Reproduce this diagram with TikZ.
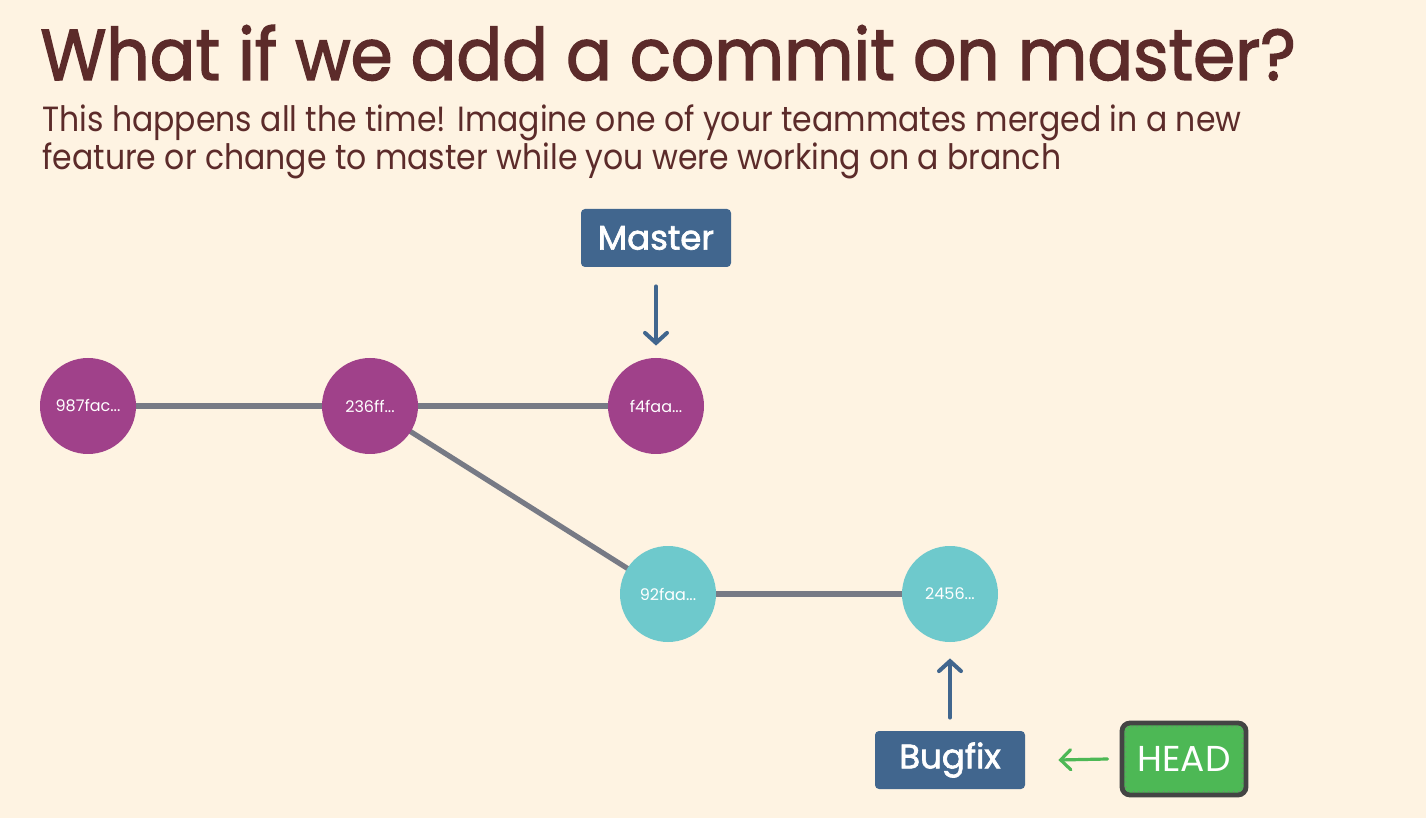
\documentclass[tikz,border=0pt]{standalone}
\usepackage{fontspec}
\setmainfont{Poppins}
\newfontfamily\headingfont{Poppins}[FakeBold=2]
\usepackage{tikz}
\usetikzlibrary{arrows.meta,positioning}
\definecolor{bgcream}{HTML}{FEF3E2}
\definecolor{titlebrown}{HTML}{5C2B2A}
\definecolor{commitpurple}{HTML}{A0418A}
\definecolor{committeal}{HTML}{6EC9CC}
\definecolor{edgegray}{HTML}{777A85}
\definecolor{branchblue}{HTML}{41668E}
\definecolor{headgreen}{HTML}{4DB855}
\definecolor{headborder}{HTML}{444444}
\pgfdeclarelayer{edges}
\pgfsetlayers{edges,main}
\tikzset{
	commit/.style={circle, minimum size=48pt, inner sep=0pt, text=white, font=\fontsize{8}{9}\selectfont},
	master commit/.style={commit, fill=commitpurple},
	branch commit/.style={commit, fill=committeal},
	history/.style={edgegray, line width=2.6pt},
	branchbox/.style={fill=branchblue, rounded corners=2pt, text=white, minimum width=75pt, minimum height=29pt, inner sep=0pt, font=\headingfont\fontsize{17}{20}\selectfont},
	pointer/.style={branchblue, line width=2pt, line cap=round, -{Straight Barb[length=5pt,width=11pt,line cap=round]}},
	headbox/.style={fill=headgreen, draw=headborder, line width=2.4pt, rounded corners=4pt, text=white, minimum width=62pt, minimum height=36pt, inner sep=0pt, font=\fontsize{18}{20}\selectfont},
	headpointer/.style={headgreen, line width=1.6pt, line cap=round, -{Straight Barb[length=5pt,width=10pt,line cap=round]}}
}
\begin{document}
\begin{tikzpicture}[x=0.5pt, y=-0.5pt]
	\begin{pgfonlayer}{edges}
		\fill [bgcream] (0,0) rectangle (1426,818);
	\end{pgfonlayer}
	\useasboundingbox (0,0) rectangle (1426,818);
	
	% titles
	\node [anchor=base west, inner sep=0pt, xscale=0.94, text=titlebrown, font=\headingfont\fontsize{36}{40}\selectfont] (title) at (40,80) {What if we add a commit on master?};
	\node [anchor=base west, inner sep=0pt, xscale=0.9, text=titlebrown, font=\fontsize{17.5}{20}\selectfont] (subtitle1) at (42,132) {This happens all the time! Imagine one of your teammates merged in a new};
	\node [anchor=base west, inner sep=0pt, xscale=0.9, text=titlebrown, font=\fontsize{17.5}{20}\selectfont] (subtitle2) at (42,170) {feature or change to master while you were working on a branch};
	
	% commits
	\node [master commit] (c987) at (88,406) {987fac...};
	\node [master commit] (c236) at (370,406) {236ff...};
	\node [master commit] (cf4f) at (656,406) {f4faa...};
	\node [branch commit] (c92f) at (668,594) {92faa...};
	\node [branch commit] (c2456) at (950,594) {2456...};
	
	\begin{pgfonlayer}{edges}
		\draw [history] (c987.center) -- (c236.center) -- (cf4f.center);
		\draw [history] (c236.center) -- (c92f.center);
		\draw [history] (c92f.east) -- (c2456.center);
	\end{pgfonlayer}
	
	% branch labels
	\node [branchbox] (master) at (656,238) {Master};
	\node [branchbox] (bugfix) at (950,760) {Bugfix};
	\node [headbox] (head) at (1184,759) {HEAD};
	\draw [headborder!70, dotted, line width=0.5pt, rounded corners=2pt] ([shift={(3pt,3pt)}]head.south west) rectangle ([shift={(-3pt,-3pt)}]head.north east);
	
	\draw [pointer] ([yshift=-9.5pt]master.south) -- ([yshift=6pt]cf4f.north);
	\draw [pointer] ([yshift=6.5pt]bugfix.north) -- ([yshift=-8pt]c2456.south);
	\draw [headpointer] ([xshift=-6pt]head.west) -- ([xshift=16.5pt]bugfix.east);
\end{tikzpicture}
\end{document}
